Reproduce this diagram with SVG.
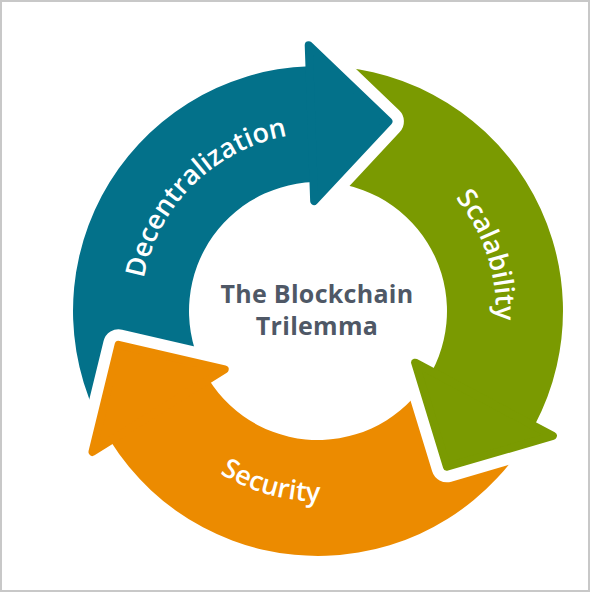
<svg xmlns="http://www.w3.org/2000/svg" width="590" height="592" viewBox="0 0 590 592">
<style>
.lbl{font-family:"Open Sans","Liberation Sans",sans-serif;font-weight:600;font-size:27px;fill:#ffffff}
.ctr{font-family:"Open Sans","Liberation Sans",sans-serif;font-weight:700;font-size:25px;letter-spacing:0.3px;fill:#4f5866;text-anchor:middle}
.hd{stroke-width:8;stroke-linejoin:round}
.mk{fill:#000;stroke:#000;stroke-width:31;stroke-linejoin:round}
</style>
<defs>
<polygon id="headTeal" points="314.16,201.07 308.72,45.16 388.42,121.42"/>
<polygon id="headGreen" points="415.12,362.64 552.85,435.89 446.95,466.78"/>
<polygon id="headOrange" points="224.72,369.29 92.43,451.95 118.62,344.79"/>
<mask id="mTeal" maskUnits="userSpaceOnUse" x="0" y="0" width="590" height="592">
<rect width="590" height="592" fill="#fff"/>
<use href="#headOrange" class="mk"/>
</mask>
<mask id="mGreen" maskUnits="userSpaceOnUse" x="0" y="0" width="590" height="592">
<rect width="590" height="592" fill="#fff"/>
<use href="#headTeal" class="mk"/>
</mask>
<mask id="mOrange" maskUnits="userSpaceOnUse" x="0" y="0" width="590" height="592">
<rect width="590" height="592" fill="#fff"/>
<use href="#headGreen" class="mk"/>
</mask>
<path id="tpDec" d="M 146.64 356.45 A 178 178 0 0 1 365.51 139.48"/>
<path id="tpSca" d="M 396.97 151.56 A 178 178 0 0 1 476.35 392.25"/>
<path id="tpSec" d="M 156.46 409.66 A 191 191 0 0 0 407.29 480.27"/>
</defs>
<rect x="1" y="1" width="588" height="590" fill="#ffffff" stroke="#c8c8c8" stroke-width="2"/>
<g id="decentralization">
<path mask="url(#mTeal)" fill="#03718a" d="M 110.24 440.83 A 245 245 0 0 1 309.45 66.15 L 313.50 182.08 A 129 129 0 0 0 208.61 379.36 Z"/>
<use href="#headTeal" class="hd" fill="#03718a" stroke="#03718a"/>
<text class="lbl"><textPath href="#tpDec" startOffset="50%" text-anchor="middle">Decentralization</textPath></text>
</g>
<g id="scalability">
<path mask="url(#mGreen)" fill="#7a9a01" d="M 309.45 66.15 A 245 245 0 0 1 534.31 426.03 L 431.89 371.57 A 129 129 0 0 0 313.50 182.08 Z"/>
<use href="#headGreen" class="hd" fill="#7a9a01" stroke="#7a9a01"/>
<text class="lbl"><textPath href="#tpSca" startOffset="50%" text-anchor="middle">Scalability</textPath></text>
</g>
<g id="security">
<path mask="url(#mOrange)" fill="#ec8b00" d="M 534.31 426.03 A 245 245 0 0 1 110.24 440.83 L 208.61 379.36 A 129 129 0 0 0 431.89 371.57 Z"/>
<use href="#headOrange" class="hd" fill="#ec8b00" stroke="#ec8b00"/>
<text class="lbl"><textPath href="#tpSec" startOffset="50%" text-anchor="middle">Security</textPath></text>
</g>
<g id="center">
<text class="ctr" x="317" y="303">The Blockchain</text>
<text class="ctr" x="317" y="335">Trilemma</text>
</g>
</svg>
